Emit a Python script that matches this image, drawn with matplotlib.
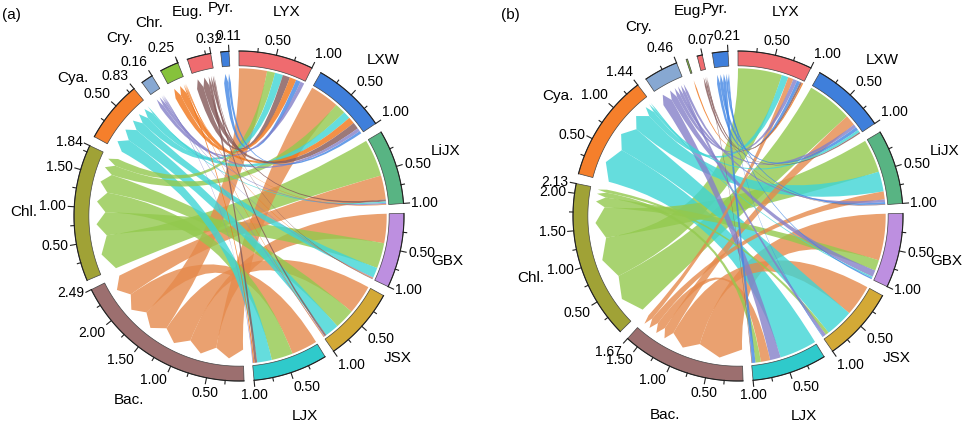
import numpy as np
import matplotlib.pyplot as plt
from matplotlib.path import Path
from matplotlib.patches import PathPatch, Polygon

plt.rcParams['font.family'] = ['Liberation Sans', 'DejaVu Sans']

sites = ['LYX', 'LXW', 'LiJX', 'GBX', 'JSX', 'LJX']
taxa = ['Bac.', 'Chl.', 'Cya.', 'Cry.', 'Chr.', 'Eug.', 'Pyr.']

# relative abundance of each taxon at each site (rows = sites, cols = taxa)
abund_a = [
    [0.42, 0.12, 0.12, 0.06, 0.10, 0.11, 0.07],
    [0.44, 0.16, 0.11, 0.05, 0.10, 0.10, 0.04],
    [0.36, 0.56, 0.02, 0.02, 0.01, 0.03, 0.00],
    [0.44, 0.38, 0.15, 0.01, 0.01, 0.01, 0.00],
    [0.44, 0.30, 0.21, 0.01, 0.01, 0.03, 0.00],
    [0.39, 0.32, 0.22, 0.01, 0.02, 0.04, 0.00],
]
abund_b = [
    [0.08, 0.66, 0.10, 0.06, 0.02, 0.03, 0.05],
    [0.16, 0.68, 0.04, 0.05, 0.00, 0.02, 0.05],
    [0.12, 0.50, 0.30, 0.04, 0.00, 0.01, 0.03],
    [0.70, 0.16, 0.02, 0.10, 0.00, 0.00, 0.02],
    [0.47, 0.05, 0.42, 0.05, 0.00, 0.00, 0.01],
    [0.14, 0.08, 0.56, 0.16, 0.00, 0.01, 0.05],
]

site_colors = ['#EF6B6F', '#3F7FDB', '#58B483', '#BD8FE0', '#D3A936', '#2FCACB']
taxa_colors = ['#9C6F6F', '#A0A236', '#F57F2B', '#87A8D2', '#86C23B', '#EF6B6F', '#3F7FDB']
link_colors = ['#E58A4C', '#93C94E', '#3ED5D5', '#8580C8', '#F07418', '#845858', '#4286E4']

GAP = 3.5          # degrees between sectors
R = 165            # outer radius in pixels
R_IN = 0.91
R_SITE = 0.895     # chord end at the sites
R_BASE = 0.81      # chord end (arrow base) at the taxa
R_TIP = 0.865
NAME_R = 200       # inner edge of the sector names, pixels


def chord_panel(ax, cx, cy, mat, tag):
    mat = np.array(mat)
    totals = np.concatenate([mat.sum(axis=1), mat.sum(axis=0)])
    names = sites + taxa
    colors = site_colors + taxa_colors
    unit = (360 - len(names) * GAP) / totals.sum()

    def pt(r, ang):
        a = np.radians(ang)
        return (cx + r * R * np.cos(a), cy - r * R * np.sin(a))

    def tick(ang, ln):
        p1 = pt(1.0, ang)
        p2 = pt(1.0 + ln / R, ang)
        ax.plot([p1[0], p2[0]], [p1[1], p2[1]], color='#222222', lw=0.8, zorder=4)

    starts = []
    a = 90.0
    for t in totals:
        starts.append(a)
        a -= t * unit + GAP

    # sectors, ticks and labels
    for k, (name, tot) in enumerate(zip(names, totals)):
        a0 = starts[k]
        a1 = a0 - tot * unit
        arc = np.linspace(a0, a1, 40)
        poly = [pt(1.0, q) for q in arc] + [pt(R_IN, q) for q in arc[::-1]]
        ax.add_patch(Polygon(poly, closed=True, facecolor=colors[k],
                             edgecolor='#444444', lw=0.5, zorder=3))
        if tot < 0.05:
            continue
        ax.plot(*zip(*[pt(1.0, q) for q in arc]), color='#222222', lw=0.8, zorder=4)
        for m in range(1, int(np.floor(tot / 0.25 + 1e-6)) + 1):
            v = m * 0.25
            tick(a0 - v * unit, 6 if m % 2 == 0 else 3.5)
        labs = [m * 0.5 for m in range(1, int(np.floor(tot / 0.5 + 1e-6)) + 1)]
        if abs(tot - round(tot / 0.5) * 0.5) > 1e-6:
            labs.append(tot)
            tick(a1, 6)
        for v in labs:
            ang = a0 - v * unit
            c, s = np.cos(np.radians(ang)), np.sin(np.radians(ang))
            ha = 'left' if c > 0.25 else ('right' if c < -0.25 else 'center')
            va = 'bottom' if s > 0.5 else ('top' if s < -0.5 else 'center')
            x, y = pt(1.0 + 8 / R, ang)
            ax.text(x, y, '%.2f' % v, ha=ha, va=va, fontsize=10, zorder=5)
        mid = (a0 + a1) / 2
        c, s = np.cos(np.radians(mid)), np.sin(np.radians(mid))
        w = 7.6 * len(name)
        rr = NAME_R + 0.5 * (w * abs(c) + 14 * abs(s))
        x, y = pt(rr / R, mid)
        ax.text(x, y, name, ha='center', va='center', fontsize=11, zorder=5)

    # slot positions of each link on both ends, larger links first
    ns, nt = mat.shape
    site_pos = {}
    for i in range(ns):
        cur = starts[i]
        for j in np.argsort(-mat[i], kind='stable'):
            if mat[i, j] > 0:
                site_pos[(i, j)] = (cur, cur - mat[i, j] * unit)
                cur -= mat[i, j] * unit
    taxa_pos = {}
    for j in range(nt):
        cur = starts[ns + j]
        for i in np.argsort(-mat[:, j], kind='stable'):
            if mat[i, j] > 0:
                taxa_pos[(i, j)] = (cur, cur - mat[i, j] * unit)
                cur -= mat[i, j] * unit

    links = sorted(site_pos.keys(), key=lambda ij: -mat[ij])
    for (i, j) in links:
        a1, a2 = site_pos[(i, j)]
        b1, b2 = taxa_pos[(i, j)]
        arc = np.linspace(a1, a2, max(3, int(abs(a1 - a2) * 2) + 2))
        verts = [pt(R_SITE, q) for q in arc]
        codes = [Path.MOVETO] + [Path.LINETO] * (len(arc) - 1)
        verts += [(cx, cy), pt(R_BASE, b1)]
        codes += [Path.CURVE3, Path.CURVE3]
        verts += [pt(R_TIP, (b1 + b2) / 2), pt(R_BASE, b2)]
        codes += [Path.LINETO, Path.LINETO]
        verts += [(cx, cy), pt(R_SITE, a1)]
        codes += [Path.CURVE3, Path.CURVE3]
        verts.append(pt(R_SITE, a1))
        codes.append(Path.CLOSEPOLY)
        ax.add_patch(PathPatch(Path(verts, codes), facecolor=link_colors[j],
                               edgecolor='none', alpha=0.8, zorder=2))

    ax.text(cx - 237, 15, tag, ha='left', va='center', fontsize=11)


fig = plt.figure(figsize=(9.69, 4.22), dpi=100)
ax = fig.add_axes([0, 0, 1, 1])
ax.set_xlim(0, 969)
ax.set_ylim(422, 0)
ax.axis('off')

chord_panel(ax, 239, 216, abund_a, '(a)')
chord_panel(ax, 738, 216, abund_b, '(b)')

fig.savefig('out.png', dpi=100)
